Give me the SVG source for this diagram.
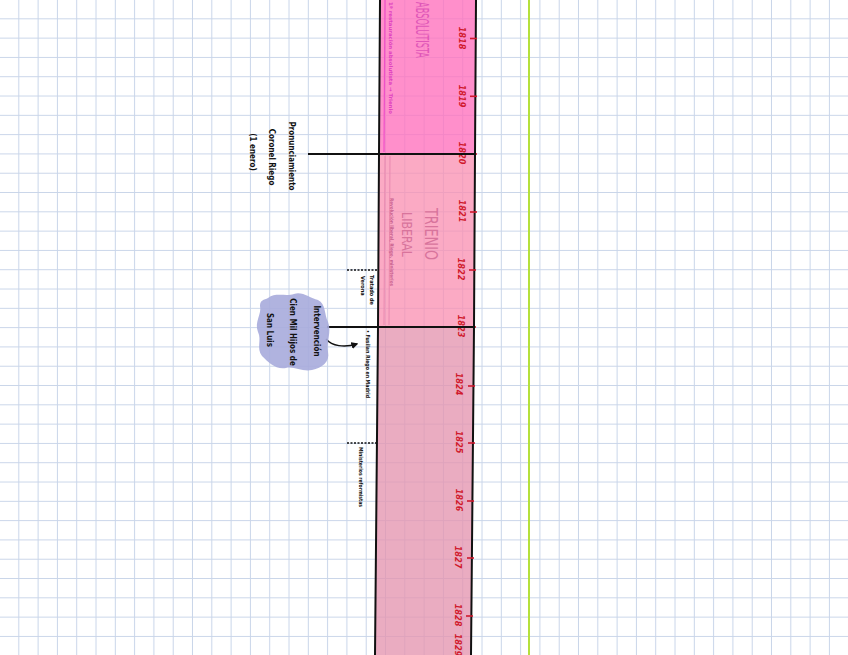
<svg xmlns="http://www.w3.org/2000/svg" width="848" height="655" viewBox="0 0 848 655">
<defs>
<pattern id="grid" x="0" y="0" width="19.3" height="19.3" patternUnits="userSpaceOnUse">
<path d="M19.3 0V19.3M0 19.3H19.3" stroke="#c9d5e9" stroke-width="2" fill="none"/>
</pattern>
<marker id="ah" viewBox="0 0 10 10" refX="8" refY="5" markerWidth="5" markerHeight="5" orient="auto">
<path d="M0 0L10 5L0 10Z" fill="#111"/>
</marker>
<style>
.yr{font-family:"DejaVu Sans Condensed","Liberation Sans",sans-serif;font-style:italic;font-weight:bold;font-size:9px;fill:#d0192c;text-anchor:middle}
.lab{font-family:"DejaVu Sans Condensed","Liberation Sans",sans-serif;font-weight:bold;font-size:8px;fill:#111;text-anchor:middle}
.sm{font-family:"DejaVu Sans Condensed","Liberation Sans",sans-serif;font-weight:bold;font-size:5.5px;fill:#111}
.tk{stroke:#d0192c;stroke-width:1.6}
.ln{stroke:#111;stroke-width:2;fill:none}
.dash{stroke:#111;stroke-width:1.5;stroke-dasharray:2 1.5;fill:none}
</style>
</defs>
<rect width="848" height="655" fill="#fff"/>
<rect width="848" height="655" fill="url(#grid)"/>
<line x1="529" y1="0" x2="529" y2="655" stroke="#b5e03c" stroke-width="2"/>
<g id="bar">
<polygon points="380,0 476,0 475,154 379,154" fill="#ff6fbd" fill-opacity="0.78"/>
<polygon points="379,154 475,154 474,327 378,327" fill="#f98db0" fill-opacity="0.75"/>
<polygon points="378,327 474,327 471,655 375,655" fill="#e495b0" fill-opacity="0.78"/>
<line x1="385" y1="0" x2="384" y2="152" stroke="#f050c8" stroke-width="1.2"/>
<line x1="385" y1="156" x2="384" y2="325" stroke="#e889b0" stroke-width="1"/>
<line x1="390" y1="156" x2="389" y2="325" stroke="#e889b0" stroke-width="1"/>
<text transform="translate(416,2) rotate(90)" font-family="DejaVu Sans Condensed,Liberation Sans,sans-serif" font-size="18" fill="#e056b8" textLength="56" lengthAdjust="spacingAndGlyphs">ABSOLUTISTA</text>
<text transform="translate(389,2) rotate(90)" font-family="DejaVu Sans Condensed,Liberation Sans,sans-serif" font-weight="bold" font-size="5" fill="#e040c0" textLength="112" lengthAdjust="spacingAndGlyphs">1ª restauración absolutista → Trienio</text>
<text transform="translate(425,208) rotate(90)" font-family="DejaVu Sans Condensed,Liberation Sans,sans-serif" font-size="17" fill="#d8749c" textLength="52" lengthAdjust="spacingAndGlyphs">TRIENIO</text>
<text transform="translate(402,212) rotate(90)" font-family="DejaVu Sans Condensed,Liberation Sans,sans-serif" font-size="14" fill="#d8749c" textLength="45" lengthAdjust="spacingAndGlyphs">LIBERAL</text>
<text transform="translate(390,198) rotate(90)" font-family="DejaVu Sans Condensed,Liberation Sans,sans-serif" font-weight="bold" font-size="5" fill="#c9608e" textLength="88" lengthAdjust="spacingAndGlyphs">Revolución liberal, Riego, ministerios</text>
<path d="M380 0L379 154L378 327L375 655" class="ln" stroke-width="2.5"/>
<path d="M476 0L475 154L474 327L471 655" class="ln" stroke-width="2.5"/>
</g>
<g id="ticks">
<line class="tk" x1="470" y1="38.5" x2="477" y2="38.5"/>
<line class="tk" x1="470" y1="96.3" x2="477" y2="96.3"/>
<line class="tk" x1="470" y1="154" x2="477" y2="154"/>
<line class="tk" x1="470" y1="212" x2="477" y2="212"/>
<line class="tk" x1="469" y1="270" x2="476" y2="270"/>
<line class="tk" x1="469" y1="327" x2="476" y2="327"/>
<line class="tk" x1="468" y1="386" x2="475" y2="386"/>
<line class="tk" x1="468" y1="443" x2="475" y2="443"/>
<line class="tk" x1="467" y1="501" x2="474" y2="501"/>
<line class="tk" x1="467" y1="558" x2="474" y2="558"/>
<line class="tk" x1="466" y1="616" x2="473" y2="616"/>
<text class="yr" transform="translate(459,38) rotate(90)">1818</text>
<text class="yr" transform="translate(459,96) rotate(90)">1819</text>
<text class="yr" transform="translate(459,153) rotate(90)">1820</text>
<text class="yr" transform="translate(459,211) rotate(90)">1821</text>
<text class="yr" transform="translate(458,269) rotate(90)">1822</text>
<text class="yr" transform="translate(458,326) rotate(90)">1823</text>
<text class="yr" transform="translate(456,384) rotate(90)">1824</text>
<text class="yr" transform="translate(456,442) rotate(90)">1825</text>
<text class="yr" transform="translate(456,500) rotate(90)">1826</text>
<text class="yr" transform="translate(455,557) rotate(90)">1827</text>
<text class="yr" transform="translate(455,615) rotate(90)">1828</text>
<text class="yr" transform="translate(455,645) rotate(90)">1829</text>
</g>
<g id="connectors">
<line class="ln" x1="308" y1="154" x2="476" y2="154"/>
<line class="ln" x1="327" y1="327" x2="475" y2="327"/>
<line class="dash" x1="347" y1="270" x2="378" y2="270"/>
<line class="dash" x1="347" y1="443" x2="377" y2="443"/>
<path d="M326 339C332 346 344 348 357 344" stroke="#111" stroke-width="1.4" fill="none" marker-end="url(#ah)"/>
</g>
<g id="riego">
<text class="lab" transform="translate(289,156) rotate(90)">Pronunciamiento</text>
<text class="lab" transform="translate(269,157) rotate(90)">Coronel Riego</text>
<text class="lab" transform="translate(250,152) rotate(90)">(1 enero)</text>
</g>
<g id="intervencion">
<path d="M268 298C276 292 286 297 294 294C302 291 310 298 318 300C326 304 324 314 328 322C332 332 326 342 328 352C330 362 322 368 312 370C302 372 294 366 286 368C276 370 268 362 262 356C256 348 262 340 258 332C254 322 262 314 260 306C260 300 264 300 268 298Z" fill="#a7abdb" fill-opacity="0.9"/>
<text class="lab" transform="translate(314,331) rotate(90)">Intervención</text>
<text class="lab" transform="translate(290,332) rotate(90)">Cien Mil Hijos de</text>
<text class="lab" transform="translate(267,330) rotate(90)">San Luis</text>
</g>
<g id="verona">
<text class="sm" transform="translate(370,275) rotate(90)">Tratado de</text>
<text class="sm" transform="translate(361,276) rotate(90)">Verona</text>
</g>
<g id="fusilan">
<text class="sm" transform="translate(366,330) rotate(90)" textLength="68" lengthAdjust="spacingAndGlyphs">• Fusilan Riego en Madrid</text>
</g>
<g id="ministerios">
<text class="sm" transform="translate(359,447) rotate(90)" textLength="60" lengthAdjust="spacingAndGlyphs">Ministerios reformistas</text>
</g>
</svg>
